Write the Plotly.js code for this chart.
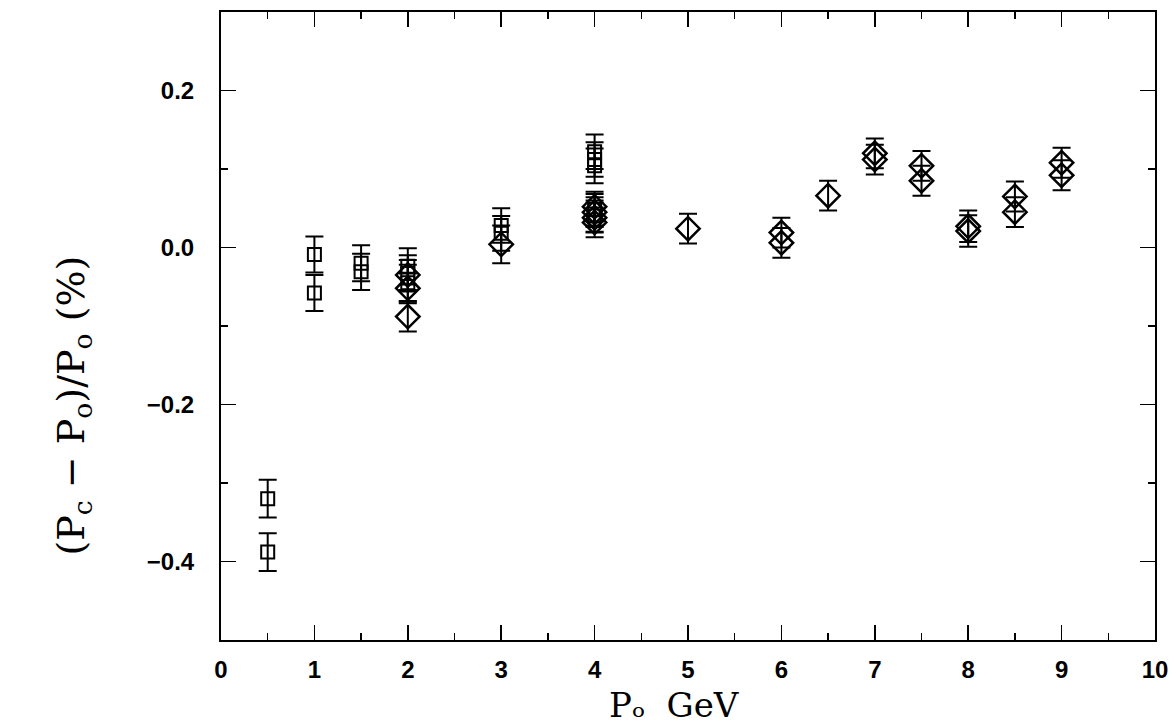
<!DOCTYPE html>
<html>
<head>
<meta charset="utf-8">
<script src="https://cdn.plot.ly/plotly-3.0.1.min.js"></script>
<style>html,body{margin:0;padding:0;background:#fff;}#chart{width:1172px;height:728px;}</style>
</head>
<body>
<div id="chart"></div>
<script>
// Open squares series
var sqX   = [0.5, 0.5, 1, 1, 1.5, 1.5, 2, 2, 2, 3, 3, 4, 4, 4, 4, 4];
var sqY   = [-0.320, -0.388, -0.009, -0.058, -0.020, -0.031, -0.024, -0.033, -0.045, 0.028, 0.018, 0.122, 0.112, 0.104, 0.048, 0.040];
var sqErr = [0.024, 0.024, 0.023, 0.023, 0.023, 0.023, 0.023, 0.023, 0.023, 0.022, 0.022, 0.022, 0.022, 0.022, 0.020, 0.020];

// Open diamonds series
var dmX   = [2, 2, 2, 3, 4, 4, 4, 4, 5, 6, 6, 6.5, 7, 7, 7.5, 7.5, 8, 8, 8.5, 8.5, 9, 9];
var dmY   = [-0.035, -0.052, -0.088, 0.004, 0.052, 0.045, 0.038, 0.032, 0.024, 0.019, 0.006, 0.066, 0.120, 0.112, 0.104, 0.085, 0.027, 0.021, 0.065, 0.045, 0.108, 0.092];
var dmErr = [0.019, 0.019, 0.019, 0.024, 0.019, 0.019, 0.019, 0.019, 0.019, 0.019, 0.019, 0.019, 0.019, 0.019, 0.019, 0.019, 0.020, 0.020, 0.019, 0.019, 0.019, 0.019];

var xTickVals = [0,1,2,3,4,5,6,7,8,9,10];
var yTickVals = [-0.4,-0.2,0.0,0.2];
var yTickText = ['\u22120.4','\u22120.2','0.0','0.2'];

var traces = [
  {
    x: sqX, y: sqY, type: 'scatter', mode: 'markers', name: 'squares',
    marker: {symbol: 'square-open', size: 13, color: '#000', line: {width: 2, color: '#000'}},
    error_y: {type: 'data', array: sqErr, visible: true, color: '#000', thickness: 2, width: 9}
  },
  {
    x: dmX, y: dmY, type: 'scatter', mode: 'markers', name: 'diamonds',
    marker: {symbol: 'diamond-open', size: 18, color: '#000', line: {width: 2.5, color: '#000'}},
    error_y: {type: 'data', array: dmErr, visible: true, color: '#000', thickness: 2, width: 9}
  }
];

var tickFont = {family: 'Liberation Sans, Arial, sans-serif', size: 24, color: '#000', weight: 'bold'};
var titleFont = {family: 'DejaVu Serif', size: 38, color: '#000'};

var layout = {
  width: 1172, height: 728,
  margin: {l: 221, r: 17, t: 12, b: 88},
  paper_bgcolor: '#fff', plot_bgcolor: '#fff',
  showlegend: false,
  xaxis: {
    range: [0, 10], tickmode: 'array', tickvals: xTickVals,
    ticks: 'inside', ticklen: 15, tickwidth: 1.5, tickcolor: '#000',
    minor: {dtick: 0.5, ticks: 'inside', ticklen: 7, tickwidth: 1.5, tickcolor: '#000', showgrid: false},
    showline: true, linewidth: 2, linecolor: '#000', mirror: 'allticks',
    showgrid: false, zeroline: false, tickfont: tickFont, ticklabelstandoff: 7
  },
  yaxis: {
    range: [-0.5, 0.3], tickmode: 'array', tickvals: yTickVals, ticktext: yTickText,
    ticks: 'inside', ticklen: 15, tickwidth: 1.5, tickcolor: '#000',
    minor: {tickvals: [-0.5,-0.3,-0.1,0.1,0.3], ticks: 'inside', ticklen: 7, tickwidth: 1.5, tickcolor: '#000', showgrid: false},
    showline: true, linewidth: 2, linecolor: '#000', mirror: 'allticks',
    showgrid: false, zeroline: false, tickfont: tickFont, ticklabelstandoff: 20
  },
  annotations: [
    {
      text: '(P<sub>c</sub> \u2212 P<sub>o</sub>)/P<sub>o</sub> (%)',
      xref: 'paper', yref: 'paper', x: -0.158, y: 0.374, xanchor: 'center', yanchor: 'middle',
      textangle: -90, showarrow: false, font: titleFont
    },
    {
      text: 'P\u2092  GeV',
      xref: 'paper', yref: 'paper', x: 0.486, y: -0.139, xanchor: 'center', yanchor: 'bottom',
      showarrow: false, font: {family: 'DejaVu Serif', size: 34, color: '#000'}
    }
  ]
};

Plotly.newPlot('chart', traces, layout, {displayModeBar: false, staticPlot: true});
</script>
</body>
</html>
